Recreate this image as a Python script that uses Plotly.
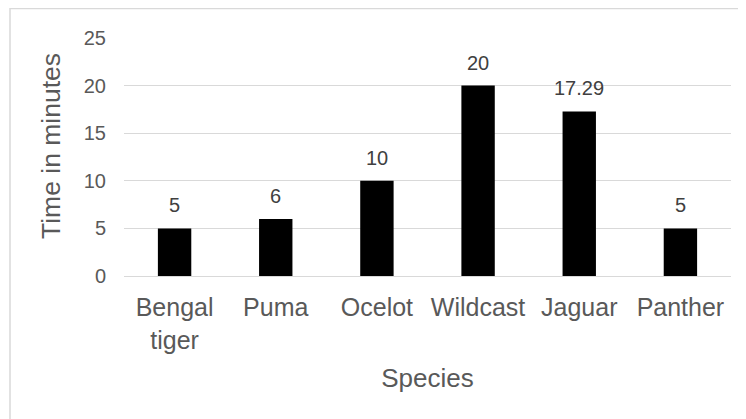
import plotly.graph_objects as go

categories = ["Bengal<br>tiger", "Puma", "Ocelot", "Wildcast", "Jaguar", "Panther"]
values = [5, 6, 10, 20, 17.29, 5]
value_labels = ["5", "6", "10", "20", "17.29", "5"]
y_ticks = [0, 5, 10, 15, 20, 25]

# page body has an 8px margin, so the figure is laid out 8px up/left
W, H = 738, 411
ml, mt = 116, 30
pw, ph = 607, 238
mr, mb = W - ml - pw, H - mt - ph

FONT = "Liberation Sans, Arial, sans-serif"
TXT = "#595959"

fig = go.Figure()
fig.add_trace(go.Bar(
    x=categories, y=values,
    marker=dict(color="black", line=dict(width=0)),
    width=0.33,
    hoverinfo="x+y",
))

for c, v, t in zip(categories, values, value_labels):
    fig.add_annotation(x=c, y=v, text=t, showarrow=False, yanchor="bottom",
                       yshift=10, font=dict(family=FONT, size=20, color="#404040"))

# y-axis title
fig.add_annotation(xref="paper", yref="paper", x=(43 - ml) / pw, y=(mt + ph - 138) / ph,
                   text="Time in minutes", textangle=-90, showarrow=False,
                   xanchor="center", yanchor="middle",
                   font=dict(family=FONT, size=26.5, color=TXT))

# outer chart border (open at right and bottom, as in the cropped original)
fig.add_shape(type="rect", xref="paper", yref="paper",
              x0=(2 - ml) / pw, x1=(W + 20 - ml) / pw,
              y0=(mt + ph - (H + 20)) / ph, y1=(mt + ph - 0.5) / ph,
              line=dict(color="#d9d9d9", width=1.5), layer="below")

fig.update_layout(
    width=W, height=H,
    margin=dict(l=ml, r=mr, t=mt, b=mb),
    paper_bgcolor="white", plot_bgcolor="white",
    showlegend=False,
    font=dict(family=FONT, color=TXT),
    xaxis=dict(
        showgrid=False, showline=True, linecolor="#d9d9d9", linewidth=1,
        ticks="outside", ticklen=9, tickcolor="rgba(0,0,0,0)",
        tickfont=dict(family=FONT, size=25, color=TXT),
        title=dict(text="Species", font=dict(family=FONT, size=26, color=TXT), standoff=16),
    ),
    yaxis=dict(
        range=[0, 25], tickvals=y_ticks,
        showgrid=True, gridcolor="#d9d9d9", gridwidth=1,
        zeroline=True, zerolinecolor="#d9d9d9", zerolinewidth=1,
        showline=False,
        ticks="outside", ticklen=13, tickcolor="rgba(0,0,0,0)",
        tickfont=dict(family=FONT, size=20, color=TXT),
    ),
)

fig.write_html("out.html")
